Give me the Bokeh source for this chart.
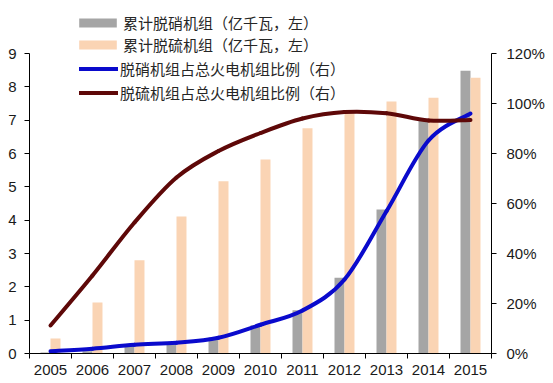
from bokeh.plotting import figure
from bokeh.models import (ColumnDataSource, Range1d, LinearAxis, FixedTicker,
                          Legend, LegendItem)
from bokeh.transform import dodge
from bokeh.embed import file_html
from bokeh.resources import INLINE

# ---------------- data ----------------
years = ["2005", "2006", "2007", "2008", "2009", "2010",
         "2011", "2012", "2013", "2014", "2015"]
# cumulative capacity, 亿千瓦 (left axis)
denitration_units = [0.03, 0.07, 0.25, 0.30, 0.48, 0.85, 1.30, 2.27, 4.32, 7.00, 8.48]
desulfur_units = [0.45, 1.53, 2.80, 4.11, 5.17, 5.82, 6.76, 7.20, 7.56, 7.67, 8.27]
# share of thermal power units, % (right axis)
denitration_share = [0.9, 1.9, 3.5, 4.3, 6.3, 11.5, 17.2, 29.6, 56.9, 85.2, 96.0]
desulfur_share = [11.2, 31.2, 52.4, 70.4, 81.0, 88.2, 94.0, 96.6, 96.1, 93.2, 93.4]

left_ticks = [0, 1, 2, 3, 4, 5, 6, 7, 8, 9]
right_ticks = [0, 20, 40, 60, 80, 100, 120]
right_tick_labels = ["0%", "20%", "40%", "60%", "80%", "100%", "120%"]

legend_labels = ["累计脱硝机组（亿千瓦，左）", "累计脱硫机组（亿千瓦，左）",
                 "脱硝机组占总火电机组比例（右）", "脱硫机组占总火电机组比例（右）"]

GRAY = "#a5a5a5"
PEACH = "#fad4b4"
BLUE = "#0a0acc"
BROWN = "#5e0808"
AXIS_FONT = "Liberation Sans"
CJK_FONT = "Noto Sans CJK SC"

# frame geometry (px): top of frame sits above the axis maximum so the
# legend (drawn inside the frame) has room above the plotted area
TOP_BORDER = 5
BOTTOM_BORDER = 30
PLOT_H = 383 - TOP_BORDER - BOTTOM_BORDER      # 348
AXIS_H = 300                                  # px from 0 to the axis max
left_max = left_ticks[-1]
right_max = right_ticks[-1]

idx = list(range(len(years)))
src = ColumnDataSource(dict(x=idx, nox=denitration_units, sox=desulfur_units))

p = figure(width=553, height=383, output_backend="svg", toolbar_location=None,
           x_range=Range1d(-0.5, len(years) - 0.5),
           y_range=Range1d(0, left_max * PLOT_H / AXIS_H),
           min_border_left=29, min_border_right=62, min_border_top=TOP_BORDER,
           min_border_bottom=BOTTOM_BORDER)
p.extra_y_ranges = {"pct": Range1d(0, right_max * PLOT_H / AXIS_H)}
p.outline_line_color = None
p.xgrid.visible = False
p.ygrid.visible = False
p.background_fill_color = "white"
p.border_fill_color = "white"

bw = 0.238
r_nox = p.vbar(x=dodge("x", -bw / 2), top="nox", width=bw, source=src,
               fill_color=GRAY, line_color=None)
r_sox = p.vbar(x=dodge("x", bw / 2), top="sox", width=bw, source=src,
               fill_color=PEACH, line_color=None)


def smooth(xs, ys):
    n = len(xs)
    d = dict(x0=[], y0=[], x1=[], y1=[], cx0=[], cy0=[], cx1=[], cy1=[])
    for i in range(n - 1):
        a = i - 1 if i > 0 else i
        b = i + 2 if i + 2 < n else i + 1
        d["x0"].append(xs[i]); d["y0"].append(ys[i])
        d["x1"].append(xs[i + 1]); d["y1"].append(ys[i + 1])
        d["cx0"].append(xs[i] + (xs[i + 1] - xs[a]) / 6)
        d["cy0"].append(ys[i] + (ys[i + 1] - ys[a]) / 6)
        d["cx1"].append(xs[i + 1] - (xs[b] - xs[i]) / 6)
        d["cy1"].append(ys[i + 1] - (ys[b] - ys[i]) / 6)
    return ColumnDataSource(d)


r_blue = p.bezier(x0="x0", y0="y0", x1="x1", y1="y1", cx0="cx0", cy0="cy0",
                  cx1="cx1", cy1="cy1", source=smooth(idx, denitration_share),
                  line_color=BLUE, line_width=4, line_cap="round",
                  y_range_name="pct")
r_brown = p.bezier(x0="x0", y0="y0", x1="x1", y1="y1", cx0="cx0", cy0="cy0",
                   cx1="cx1", cy1="cy1", source=smooth(idx, desulfur_share),
                   line_color=BROWN, line_width=4, line_cap="round",
                   y_range_name="pct")

# ---------------- axes ----------------
xa = p.xaxis[0]
xa.ticker = FixedTicker(ticks=idx, minor_ticks=[i - 0.5 for i in range(len(years) + 1)])
xa.major_label_overrides = {i: y for i, y in enumerate(years)}
xa.major_tick_out = 0
xa.major_tick_in = 0
xa.minor_tick_out = 5
xa.minor_tick_in = 0
xa.minor_tick_line_color = "black"
xa.axis_line_color = "black"
xa.major_label_standoff = 6
xa.major_label_text_font = AXIS_FONT
xa.major_label_text_font_size = "15px"
xa.major_label_text_color = "#1a1a1a"

ya = p.yaxis[0]
ya.bounds = (0, left_max)
ya.ticker = FixedTicker(ticks=left_ticks, minor_ticks=[])
ya.major_tick_out = 5
ya.major_tick_in = 0
ya.minor_tick_out = 0
ya.major_label_standoff = 8
ya.major_label_text_font = AXIS_FONT
ya.major_label_text_font_size = "15px"
ya.major_label_text_color = "#1a1a1a"
ya.axis_line_color = "black"

ra = LinearAxis(y_range_name="pct", bounds=(0, right_max),
                ticker=FixedTicker(ticks=right_ticks, minor_ticks=[]))
ra.major_label_overrides = {t: s for t, s in zip(right_ticks, right_tick_labels)}
ra.major_tick_out = 5
ra.major_tick_in = 0
ra.minor_tick_out = 0
ra.major_label_standoff = 10
ra.major_label_text_font = AXIS_FONT
ra.major_label_text_font_size = "15px"
ra.major_label_text_color = "#1a1a1a"
ra.axis_line_color = "black"
p.add_layout(ra, "right")

# ---------------- legends ----------------
common = dict(border_line_color=None, background_fill_alpha=0, padding=0,
              margin=0, label_text_font=CJK_FONT, label_text_font_size="15px",
              label_text_color="#262626", label_height=21,
              label_text_baseline="middle")
leg1 = Legend(items=[LegendItem(label=legend_labels[0], renderers=[r_nox]),
                     LegendItem(label=legend_labels[1], renderers=[r_sox])],
              location=(45, 298), glyph_width=47, glyph_height=11,
              label_standoff=2, spacing=1, **common)
leg2 = Legend(items=[LegendItem(label=legend_labels[2], renderers=[r_blue]),
                     LegendItem(label=legend_labels[3], renderers=[r_brown])],
              location=(50, 250), glyph_width=39, glyph_height=11,
              label_standoff=2, spacing=3, **common)
p.add_layout(leg1, "center")
p.add_layout(leg2, "center")

open("out.html", "w").write(file_html(p, INLINE))
